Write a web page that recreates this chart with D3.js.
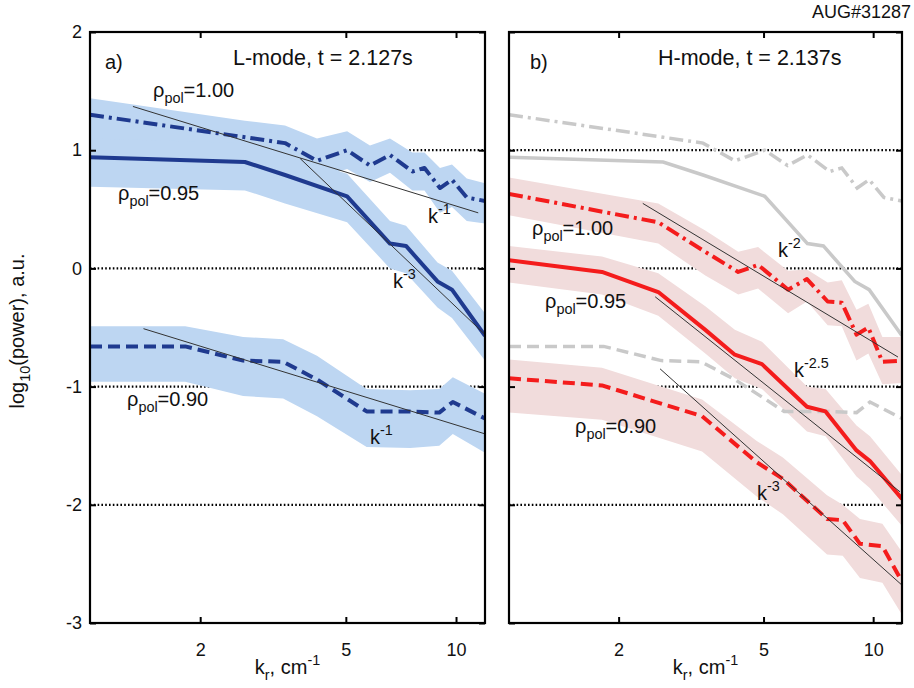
<!DOCTYPE html>
<html><head><meta charset="utf-8">
<script src="https://cdn.jsdelivr.net/npm/d3@7"></script>
<style>
body{margin:0;background:#fff}
text{font-family:"Liberation Sans",Arial,sans-serif;fill:#111}
</style>
</head><body>
<svg id="chart" width="914" height="688"></svg>
<script>
// ---------- data ----------
const kTicks = [2, 5, 10];
const yTicks = [-3, -2, -1, 0, 1, 2];
const gridLevels = [-2, -1, 0, 1];

// L-mode, rho_pol = 1.00 (dash-dot)
const L100_k  = [1.00, 2.65, 3.41, 4.17, 5.04, 5.82, 6.60, 7.60, 8.20, 9.04, 9.75, 10.7, 12.0];
const L100_v  = [1.30, 1.11, 1.06, 0.91, 1.00, 0.87, 0.96, 0.82, 0.85, 0.68, 0.75, 0.60, 0.57];
const L100_hi = [1.44, 1.25, 1.21, 1.10, 1.16, 1.04, 1.10, 0.98, 0.98, 0.85, 0.88, 0.76, 0.72];
const L100_lo = [1.05, 0.92, 0.88, 0.76, 0.84, 0.73, 0.81, 0.66, 0.66, 0.47, 0.52, 0.40, 0.38];
// L-mode, rho_pol = 0.95 (solid)
const L095_k  = [1.00, 2.65, 3.41, 5.04, 6.60, 7.30, 8.90, 9.75, 12.0];
const L095_v  = [0.94, 0.90, 0.79, 0.61, 0.21, 0.19, -0.11, -0.18, -0.57];
const L095_hi = [1.10, 1.06, 0.96, 0.80, 0.40, 0.36, 0.05, -0.02, -0.38];
const L095_lo = [0.69, 0.66, 0.55, 0.39, 0.00, -0.04, -0.33, -0.42, -0.78];
// L-mode, rho_pol = 0.90 (dashed)
const L090_k  = [1.00, 1.82, 2.62, 3.37, 4.17, 5.70, 7.50, 9.00, 9.80, 12.0];
const L090_v  = [-0.66, -0.66, -0.78, -0.79, -0.94, -1.21, -1.21, -1.22, -1.13, -1.27];
const L090_hi = [-0.49, -0.49, -0.58, -0.60, -0.74, -1.02, -1.03, -1.02, -0.92, -1.06];
const L090_lo = [-0.96, -0.96, -1.08, -1.10, -1.25, -1.51, -1.52, -1.50, -1.40, -1.56];

// H-mode, rho_pol = 1.00 (dash-dot)
const H100_k  = [1.00, 2.57, 3.46, 4.26, 4.83, 5.84, 6.58, 7.50, 8.20, 9.00, 9.70, 10.6, 12.0];
const H100_v  = [0.63, 0.39, 0.14, -0.03, 0.03, -0.18, -0.09, -0.28, -0.29, -0.56, -0.50, -0.79, -0.78];
const H100_hi = [0.77, 0.55, 0.32, 0.14, 0.18, -0.02, -0.01, -0.12, -0.10, -0.35, -0.30, -0.58, -0.58];
const H100_lo = [0.45, 0.21, -0.06, -0.22, -0.17, -0.38, -0.28, -0.48, -0.49, -0.78, -0.72, -0.98, -0.97];
// H-mode, rho_pol = 0.95 (solid)
const H095_k  = [1.00, 1.80, 2.57, 3.46, 4.17, 4.95, 6.58, 7.40, 9.00, 9.80, 12.0];
const H095_v  = [0.07, -0.03, -0.20, -0.52, -0.73, -0.81, -1.17, -1.21, -1.54, -1.63, -1.95];
const H095_hi = [0.19, 0.10, -0.04, -0.32, -0.52, -0.62, -1.00, -1.02, -1.33, -1.42, -1.75];
const H095_lo = [-0.12, -0.22, -0.40, -0.72, -0.93, -1.02, -1.38, -1.42, -1.76, -1.86, -2.18];
// H-mode, rho_pol = 0.90 (dashed)
const H090_k  = [1.00, 1.80, 3.39, 4.79, 5.65, 7.47, 8.25, 9.20, 10.6, 12.0];
const H090_v  = [-0.93, -0.99, -1.25, -1.64, -1.78, -2.12, -2.13, -2.33, -2.35, -2.65];
const H090_hi = [-0.77, -0.84, -1.11, -1.46, -1.60, -1.92, -2.00, -2.12, -2.16, -2.40];
const H090_lo = [-1.22, -1.28, -1.55, -1.93, -2.08, -2.42, -2.43, -2.62, -2.66, -2.93];

// power-law guide lines: [k1, k2], [v1, v2]
const fitL_a_k = [1.31, 11.5], fitL_a_v = [1.37, 0.47];   // k^-1
const fitL_b_k = [3.75, 12.0], fitL_b_v = [0.93, -0.56];  // k^-3
const fitL_c_k = [1.40, 12.0], fitL_c_v = [-0.51, -1.40]; // k^-1
const fitH_a_k = [2.33, 11.7], fitH_a_v = [0.55, -0.75];  // k^-2
const fitH_b_k = [2.52, 11.85], fitH_b_v = [-0.24, -1.89];// k^-2.5
const fitH_c_k = [2.60, 12.0], fitH_c_v = [-0.85, -2.68]; // k^-3

// ---------- styles ----------
const BLUE = "#1f3a8f", BLUE_BAND = "#bdd6f2";
const RED = "#f41c1c", RED_BAND = "#f1dcdc";
const GREY = "#c9c9c9";
const DASHDOT = "14,5,3,5", DASHED = "12,6";

const svg = d3.select("#chart");
const yTop = 32, yBot = 623;
const xA = d3.scaleLog().domain([1, 12]).range([90, 485]);
const xB = d3.scaleLog().domain([1, 12]).range([509, 902]);
const y = d3.scaleLinear().domain([-3, 2]).range([yBot, yTop]);

function zip(k, v) { return k.map((d, i) => ({k: d, v: v[i]})); }
function zipBand(k, lo, hi) { return k.map((d, i) => ({k: d, lo: lo[i], hi: hi[i]})); }

function rich(g, x, yy, parts, size, anchor) {
  const t = g.append("text").attr("x", x).attr("y", yy).attr("font-size", size)
    .attr("text-anchor", anchor || "start");
  let shift = 0;
  parts.forEach(p => {
    const target = p.sub ? size * 0.32 : p.sup ? -size * 0.45 : 0;
    t.append("tspan").attr("dy", target - shift)
      .attr("font-size", (p.sub || p.sup) ? size * 0.72 : size).text(p.t);
    shift = target;
  });
  return t;
}

function panel(x, id, curves, greys, fits, showY) {
  const g = svg.append("g");
  const [x0, x1] = x.range();
  svg.append("clipPath").attr("id", id).append("rect")
    .attr("x", x0).attr("y", yTop).attr("width", x1 - x0).attr("height", yBot - yTop);
  const body = g.append("g").attr("clip-path", `url(#${id})`);

  body.selectAll("line.grid").data(gridLevels).join("line")
    .attr("x1", x0).attr("x2", x1).attr("y1", d => y(d)).attr("y2", d => y(d))
    .attr("stroke", "#000").attr("stroke-width", 2.2).attr("stroke-dasharray", "1.6,2.2");

  const area = d3.area().x(d => x(d.k)).y0(d => y(d.lo)).y1(d => y(d.hi));
  const line = d3.line().x(d => x(d.k)).y(d => y(d.v));

  curves.forEach(c => {
    body.append("path").datum(zipBand(c.k, c.lo, c.hi)).attr("d", area)
      .attr("fill", c.band).attr("stroke", "none");
  });
  greys.forEach(c => {
    body.append("path").datum(zip(c.k, c.v)).attr("d", line)
      .attr("fill", "none").attr("stroke", GREY).attr("stroke-width", 3.5)
      .attr("stroke-dasharray", c.dash);
  });
  curves.forEach(c => {
    body.append("path").datum(zip(c.k, c.v)).attr("d", line)
      .attr("fill", "none").attr("stroke", c.color).attr("stroke-width", 4)
      .attr("stroke-dasharray", c.dash).attr("stroke-linejoin", "round");
  });
  fits.forEach(f => {
    body.append("path").datum(zip(f.k, f.v)).attr("d", line)
      .attr("fill", "none").attr("stroke", "#333").attr("stroke-width", 1);
  });

  g.append("rect").attr("x", x0).attr("y", yTop).attr("width", x1 - x0).attr("height", yBot - yTop)
    .attr("fill", "none").attr("stroke", "#000").attr("stroke-width", 2.2);

  const styleAxis = a => {
    a.select(".domain").remove();
    a.selectAll(".tick line").attr("stroke", "#000").attr("stroke-width", 2);
    a.selectAll(".tick text").attr("font-size", 18).attr("fill", "#111")
      .attr("font-family", '"Liberation Sans",Arial,sans-serif');
    a.attr("font-size", 18);
  };
  g.append("g").attr("transform", `translate(0,${yBot})`)
    .call(d3.axisBottom(x).tickValues(kTicks).tickSize(-6).tickPadding(20).tickFormat(d3.format("d")))
    .call(styleAxis);
  g.append("g").attr("transform", `translate(0,${yTop})`)
    .call(d3.axisTop(x).tickValues(kTicks).tickSize(-6).tickFormat(""))
    .call(styleAxis);
  g.append("g").attr("transform", `translate(${x0},0)`)
    .call(d3.axisLeft(y).tickValues(yTicks).tickSize(-6).tickPadding(8)
      .tickFormat(showY ? (d => String(d)) : ""))
    .call(styleAxis);
  g.append("g").attr("transform", `translate(${x1},0)`)
    .call(d3.axisRight(y).tickValues(yTicks).tickSize(-6).tickFormat(""))
    .call(styleAxis);

  rich(g, (x0 + x1) / 2, 674, [{t: "k"}, {t: "r", sub: true}, {t: ", cm"}, {t: "-1", sup: true}], 20, "middle");
  return g;
}

const lCurves = [
  {k: L100_k, v: L100_v, lo: L100_lo, hi: L100_hi, color: BLUE, band: BLUE_BAND, dash: DASHDOT},
  {k: L095_k, v: L095_v, lo: L095_lo, hi: L095_hi, color: BLUE, band: BLUE_BAND, dash: null},
  {k: L090_k, v: L090_v, lo: L090_lo, hi: L090_hi, color: BLUE, band: BLUE_BAND, dash: DASHED}
];
const hCurves = [
  {k: H100_k, v: H100_v, lo: H100_lo, hi: H100_hi, color: RED, band: RED_BAND, dash: DASHDOT},
  {k: H095_k, v: H095_v, lo: H095_lo, hi: H095_hi, color: RED, band: RED_BAND, dash: null},
  {k: H090_k, v: H090_v, lo: H090_lo, hi: H090_hi, color: RED, band: RED_BAND, dash: DASHED}
];
const greyCurves = [
  {k: L100_k, v: L100_v, dash: DASHDOT},
  {k: L095_k, v: L095_v, dash: null},
  {k: L090_k, v: L090_v, dash: DASHED}
];

const gA = panel(xA, "clipA", lCurves, [],
  [{k: fitL_a_k, v: fitL_a_v}, {k: fitL_b_k, v: fitL_b_v}, {k: fitL_c_k, v: fitL_c_v}], true);
const gB = panel(xB, "clipB", hCurves, greyCurves,
  [{k: fitH_a_k, v: fitH_a_v}, {k: fitH_b_k, v: fitH_b_v}, {k: fitH_c_k, v: fitH_c_v}], false);

// ---------- annotations ----------
gA.append("text").attr("x", 105).attr("y", 69).attr("font-size", 20).text("a)");
gA.append("text").attr("x", 233).attr("y", 65).attr("font-size", 21.5).text("L-mode, t = 2.127s");
gB.append("text").attr("x", 530).attr("y", 69).attr("font-size", 20).text("b)");
gB.append("text").attr("x", 658).attr("y", 65).attr("font-size", 21.5).text("H-mode, t = 2.137s");
svg.append("text").attr("x", 911).attr("y", 18).attr("font-size", 18).attr("text-anchor", "end").text("AUG#31287");

const rho = v => [{t: "ρ"}, {t: "pol", sub: true}, {t: "=" + v}];
rich(gA, 153, 97, rho("1.00"), 20);
rich(gA, 118, 200, rho("0.95"), 20);
rich(gA, 127, 406, rho("0.90"), 20);
rich(gB, 532, 235, rho("1.00"), 20);
rich(gB, 545, 308, rho("0.95"), 20);
rich(gB, 575, 433, rho("0.90"), 20);

const kpow = p => [{t: "k"}, {t: p, sup: true}];
rich(gA, 428, 223, kpow("-1"), 20);
rich(gA, 393, 288, kpow("-3"), 20);
rich(gA, 370, 444, kpow("-1"), 20);
rich(gB, 778, 257, kpow("-2"), 20);
rich(gB, 794, 377, kpow("-2.5"), 20);
rich(gB, 757, 500, kpow("-3"), 20);

const yl = svg.append("g").attr("transform", "translate(24,331) rotate(-90)");
rich(yl, 0, 0, [{t: "log"}, {t: "10", sub: true}, {t: "(power), a.u."}], 20, "middle");
</script>
</body></html>
